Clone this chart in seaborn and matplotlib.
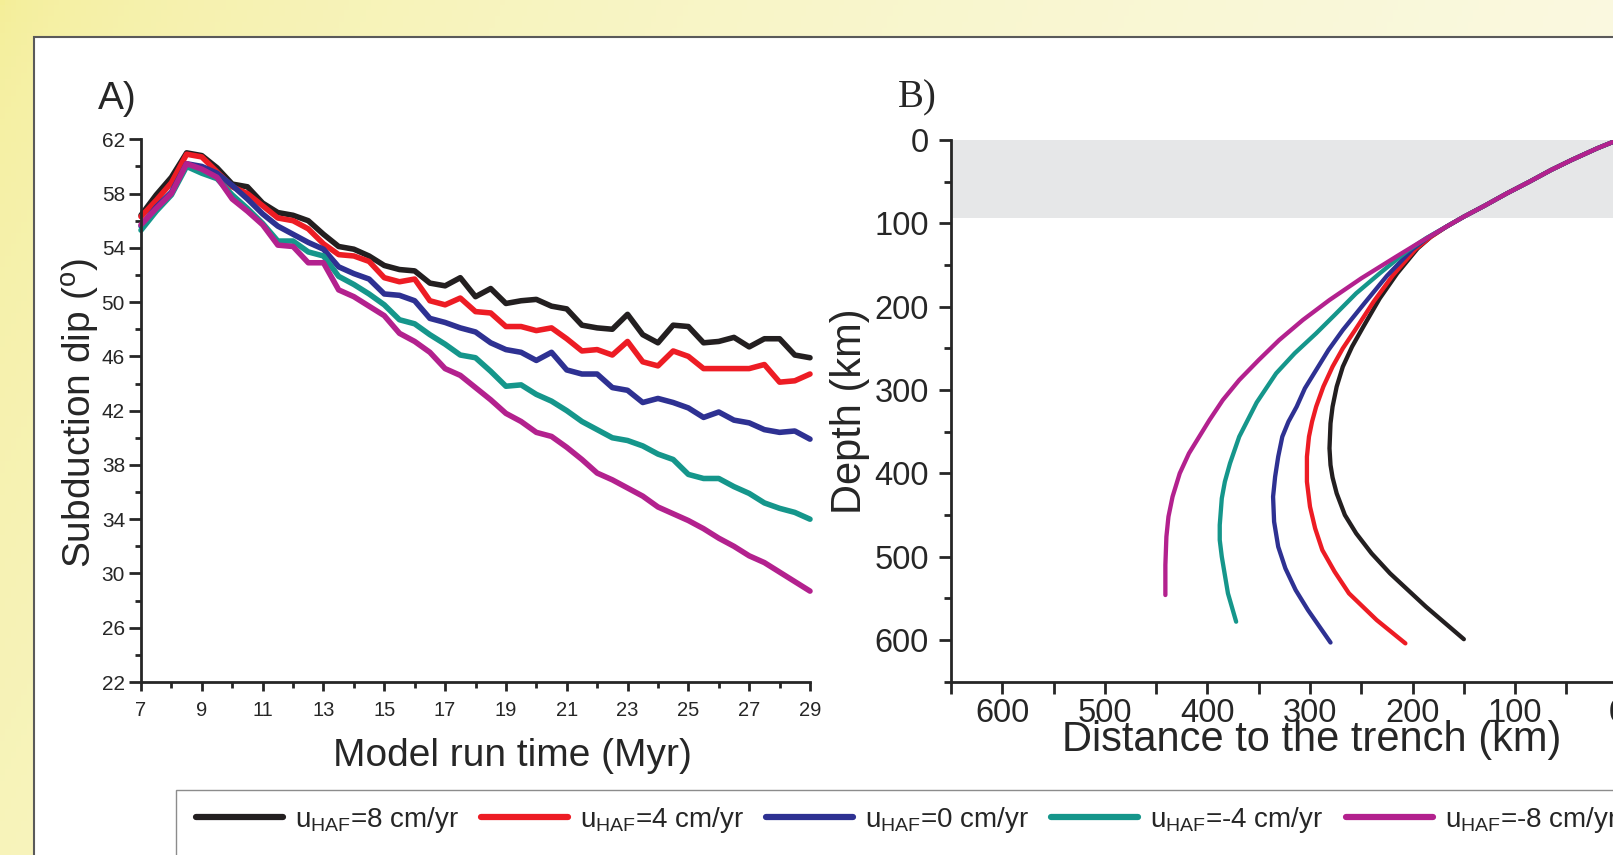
import numpy as np
import pandas as pd
import matplotlib
matplotlib.use("Agg")
import matplotlib.pyplot as plt
from matplotlib.patches import Rectangle
from matplotlib.ticker import MultipleLocator
import seaborn as sns

# Панель A: кут субдукції від часу моделі
time = [7, 7.5, 8, 8.5, 9, 9.5, 10, 10.5, 11, 11.5, 12, 12.5, 13, 13.5, 14, 14.5,
        15, 15.5, 16, 16.5, 17, 17.5, 18, 18.5, 19, 19.5, 20, 20.5, 21, 21.5, 22,
        22.5, 23, 23.5, 24, 24.5, 25, 25.5, 26, 26.5, 27, 27.5, 28, 28.5, 29]
dip_p8 = [56.4, 57.9, 59.2, 61.0, 60.8, 59.9, 58.7, 58.5, 57.3, 56.6, 56.4, 56.0, 55.0,
          54.1, 53.9, 53.4, 52.7, 52.4, 52.3, 51.4, 51.2, 51.8, 50.4, 51.0, 49.9, 50.1,
          50.2, 49.7, 49.5, 48.3, 48.1, 48.0, 49.1, 47.6, 47.0, 48.3, 48.2, 47.0, 47.1,
          47.4, 46.7, 47.3, 47.3, 46.1, 45.9]
dip_p4 = [56.3, 57.5, 58.8, 60.9, 60.7, 59.6, 58.5, 58.0, 57.1, 56.2, 56.0, 55.4, 54.3,
          53.5, 53.4, 53.0, 51.8, 51.5, 51.7, 50.1, 49.8, 50.3, 49.3, 49.2, 48.2, 48.2,
          47.9, 48.1, 47.3, 46.4, 46.5, 46.1, 47.1, 45.6, 45.3, 46.4, 46.0, 45.1, 45.1,
          45.1, 45.1, 45.4, 44.1, 44.2, 44.7]
dip_0 = [55.6, 57.0, 58.1, 60.2, 60.0, 59.5, 58.6, 57.6, 56.5, 55.6, 55.0, 54.4, 53.9,
         52.6, 52.1, 51.7, 50.6, 50.5, 50.1, 48.8, 48.5, 48.1, 47.8, 47.0, 46.5, 46.3,
         45.7, 46.3, 45.0, 44.7, 44.7, 43.7, 43.5, 42.6, 42.9, 42.6, 42.2, 41.5, 41.9,
         41.3, 41.1, 40.6, 40.4, 40.5, 39.9]
dip_m4 = [55.3, 56.7, 57.9, 60.0, 59.5, 59.1, 57.9, 56.9, 55.8, 54.5, 54.5, 53.7, 53.4,
          51.9, 51.3, 50.6, 49.8, 48.7, 48.4, 47.6, 46.9, 46.1, 45.9, 44.9, 43.8, 43.9,
          43.2, 42.7, 42.0, 41.2, 40.6, 40.0, 39.8, 39.4, 38.8, 38.4, 37.3, 37.0, 37.0,
          36.4, 35.9, 35.2, 34.8, 34.5, 34.0]
dip_m8 = [55.7, 56.9, 58.0, 60.2, 59.8, 59.2, 57.6, 56.7, 55.7, 54.2, 54.1, 52.9, 52.9,
          50.9, 50.4, 49.7, 49.0, 47.7, 47.1, 46.3, 45.1, 44.6, 43.7, 42.8, 41.8, 41.2,
          40.4, 40.1, 39.3, 38.4, 37.4, 36.9, 36.3, 35.7, 34.9, 34.4, 33.9, 33.3, 32.6,
          32.0, 31.3, 30.8, 30.1, 29.4, 28.7]

# Панель B: геометрія слебу (відстань до жолоба, глибина)
km_p8 = [0, 20, 45, 65, 86, 108, 130, 150, 167, 182, 195, 215, 232, 248, 259, 268, 274,
         278, 280, 281, 280, 278, 274, 266, 255, 240, 222, 187, 150]
z_p8 = [0, 10, 24, 36, 50, 64, 79, 92, 104, 116, 130, 160, 190, 224, 248, 272, 296,
        320, 340, 370, 390, 405, 424, 450, 472, 496, 520, 560, 599]
km_p4 = [0, 20, 45, 65, 86, 108, 130, 150, 167, 183, 197, 219, 238, 256, 268, 278, 287,
         294, 298, 301, 303, 303, 300, 295, 288, 276, 262, 235, 207]
z_p4 = [0, 10, 24, 36, 50, 64, 79, 92, 104, 117, 131, 162, 194, 228, 250, 272, 296,
        320, 338, 356, 380, 410, 440, 466, 492, 518, 544, 576, 604]
km_0 = [0, 20, 45, 65, 86, 108, 130, 150, 167, 185, 200, 225, 247, 268, 282, 294, 305,
        313, 321, 327, 331, 334, 336, 335, 331, 324, 314, 302, 280]
z_0 = [0, 10, 24, 36, 50, 64, 79, 92, 104, 117, 131, 163, 196, 228, 252, 276, 298, 320,
       338, 356, 380, 404, 428, 458, 488, 514, 540, 564, 603]
km_m4 = [0, 20, 45, 65, 86, 108, 130, 150, 167, 187, 205, 232, 255, 276, 294, 315, 333,
         352, 369, 378, 383, 386, 388, 388, 386, 380, 372]
z_m4 = [0, 10, 24, 36, 50, 64, 79, 92, 104, 118, 133, 160, 184, 210, 232, 256, 280, 315,
        356, 388, 410, 430, 462, 480, 500, 544, 578]
km_m8 = [0, 20, 45, 65, 86, 108, 130, 150, 167, 192, 216, 250, 281, 307, 330, 350, 369,
         385, 398, 410, 418, 427, 434, 438, 440, 441, 441]
z_m8 = [0, 10, 24, 36, 50, 64, 79, 92, 104, 122, 140, 166, 192, 216, 240, 264, 288, 312,
        336, 360, 376, 400, 428, 452, 476, 510, 546]

cases = ["8", "4", "0", "-4", "-8"]
colors = ["#231f20", "#ed1c24", "#2e3192", "#15968b", "#b3218e"]
band_depth = 93  # сіра смуга (літосфера)

dfA = pd.concat([pd.DataFrame({"time": time, "dip": d, "case": c})
                 for c, d in zip(cases, [dip_p8, dip_p4, dip_0, dip_m4, dip_m8])])
dfB = pd.concat([pd.DataFrame({"km": k, "depth": z, "case": c})
                 for c, k, z in zip(cases, [km_p8, km_p4, km_0, km_m4, km_m8],
                                    [z_p8, z_p4, z_0, z_m4, z_m8])])

sns.set_style("ticks")
plt.rcParams['font.family'] = ['Liberation Sans', 'DejaVu Sans']
plt.rcParams['axes.linewidth'] = 2

W, H = 1613, 855
fig = plt.figure(figsize=(W / 100, H / 100), dpi=100)


def box(x0, y0, x1, y1):
    return [x0 / W, 1 - y1 / H, (x1 - x0) / W, (y1 - y0) / H]


# Фон постера
bg = fig.add_axes([0, 0, 1, 1], zorder=-10)
gx, gy = np.meshgrid(np.linspace(0, 1, 300), np.linspace(0, 1, 150))
t = np.clip(0.8 * gx + 0.2 * gy, 0, 1) ** 0.5
c0 = np.array([244, 238, 150]) / 255
c1 = np.array([251, 250, 232]) / 255
bg.imshow(c0 + (c1 - c0) * t[..., None], extent=[0, W, H, 0], aspect='auto')
bg.set_xlim(0, W)
bg.set_ylim(H, 0)
bg.axis('off')
bg.add_patch(Rectangle((34, 37), W, H, facecolor='white', edgecolor='#5a5a5a', lw=1.5))
bg.add_patch(Rectangle((176, 790), W, H, facecolor='white', edgecolor='#8c8c8c', lw=1))

# Панель A
axA = fig.add_axes(box(141, 139.3, 810, 682))
sns.lineplot(data=dfA, x="time", y="dip", hue="case", hue_order=cases, palette=colors,
             lw=4, estimator=None, sort=False, legend=False, ax=axA)
for ln in axA.lines:
    ln.set_clip_on(False)
    ln.set_solid_capstyle('round')
axA.set_xlim(7, 29)
axA.set_ylim(22, 62)
axA.set_xticks(range(7, 30, 2))
axA.set_xticks(range(8, 29, 2), minor=True)
axA.set_yticks(range(22, 63, 4))
axA.set_yticks(range(24, 61, 4), minor=True)
sns.despine(ax=axA)
axA.tick_params(axis='y', which='major', length=8.5, width=2, pad=3, labelsize=15)
axA.tick_params(axis='y', which='minor', length=4, width=2)
axA.tick_params(axis='x', which='major', length=6.5, width=2, pad=7, labelsize=14.5)
axA.tick_params(axis='x', which='minor', length=4, width=2)
axA.set_xlabel("Model run time (Myr)", fontsize=28)
axA.set_ylabel(r"Subduction dip ($\mathregular{^o}$)", fontsize=28)
axA.xaxis.label.set_va('center')
axA.yaxis.label.set_va('center')
axA.xaxis.set_label_coords(0.555, -0.137)
axA.yaxis.set_label_coords(-0.09, 0.496)

# Панель B
axB = fig.add_axes(box(951, 140, 1669, 681.7))
axB.axhspan(0, band_depth, color='#e6e7e8', lw=0, zorder=0)
sns.lineplot(data=dfB, x="km", y="depth", hue="case", hue_order=cases, palette=colors,
             lw=3.1, estimator=None, sort=False, legend=False, ax=axB)
for ln in axB.lines:
    ln.set_solid_capstyle('round')
    ln.set_solid_joinstyle('round')
axB.set_xlim(650, -50)
axB.set_ylim(650, 0)
axB.xaxis.set_major_locator(MultipleLocator(100))
axB.xaxis.set_minor_locator(MultipleLocator(50))
axB.yaxis.set_major_locator(MultipleLocator(100))
axB.yaxis.set_minor_locator(MultipleLocator(50))
sns.despine(ax=axB)
axB.tick_params(axis='y', which='major', length=9, width=2, pad=7, labelsize=23.5)
axB.tick_params(axis='y', which='minor', length=5, width=2)
axB.tick_params(axis='x', which='both', length=8.5, width=2, pad=3, labelsize=23.5)
axB.set_xlabel("Distance to the trench (km)", fontsize=30)
axB.set_ylabel("Depth (km)", fontsize=30)
axB.xaxis.label.set_va('center')
axB.yaxis.label.set_va('center')
axB.xaxis.set_label_coords(0.503, -0.108)
axB.yaxis.set_label_coords(-0.141, 0.5)

fig.text(98 / W, 1 - 99 / H, "A)", fontsize=28, va='center', ha='left')
fig.text(898 / W, 1 - 98 / H, "B)", fontsize=28, va='center', ha='left',
         family=['Liberation Serif', 'DejaVu Serif'])

labels = [r"u$_\mathregular{HAF}$=" + c + " cm/yr" for c in cases]
leg = fig.legend(handles=axA.lines, labels=labels, loc='center left',
                 bbox_to_anchor=(196 / W, 1 - 820 / H), ncol=5, frameon=False,
                 fontsize=20, handlelength=3.13, handletextpad=0.43, columnspacing=0.8,
                 borderpad=0, borderaxespad=0)
for ln in leg.get_lines():
    ln.set_linewidth(4.5)

fig.savefig("out.png", dpi=100)
